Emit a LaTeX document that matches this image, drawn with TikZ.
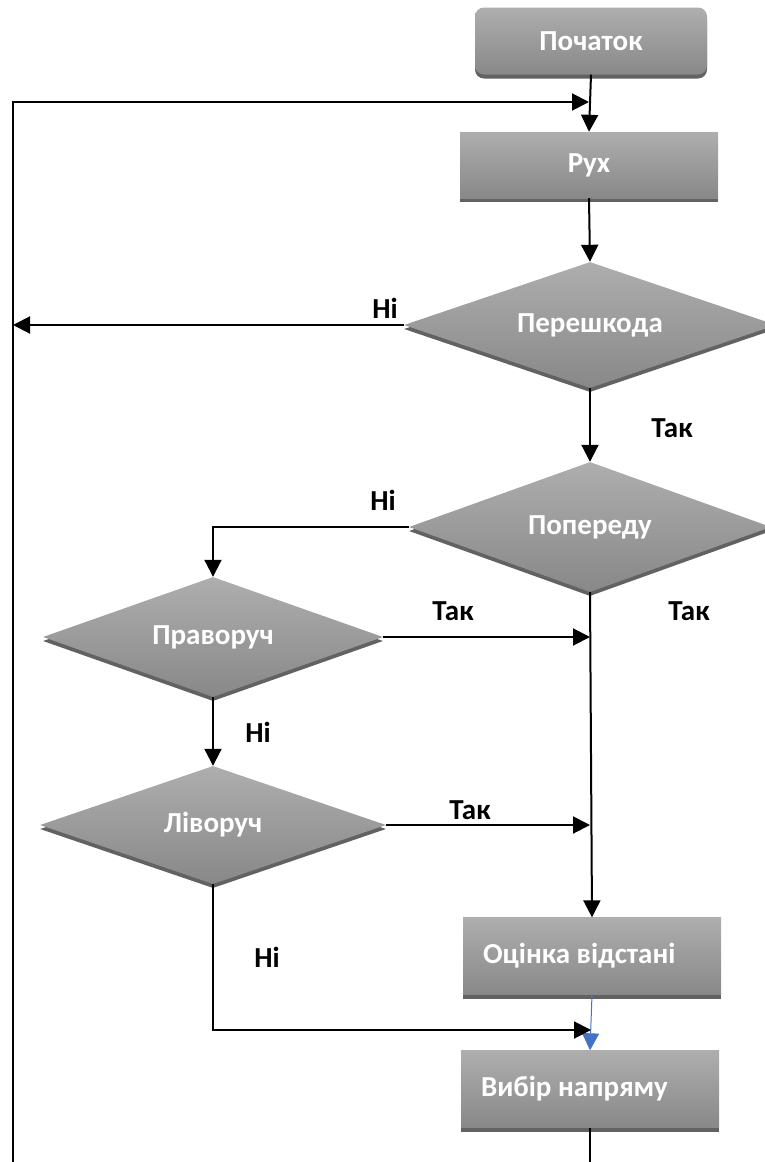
\documentclass[tikz,border=0pt]{standalone}
\usepackage{fontspec}
\setmainfont{Carlito}
\usetikzlibrary{shapes.geometric,shadows,arrows.meta}

\definecolor{boxtop}{RGB}{174,174,174}
\definecolor{boxbot}{RGB}{136,136,136}
\definecolor{boxshadow}{RGB}{98,98,98}
\definecolor{flowblue}{RGB}{68,114,196}

\tikzset{
  greynode/.style={top color=boxtop, bottom color=boxbot, draw=none, text=white,
    font=\fontsize{29}{34}\selectfont\bfseries, inner sep=0pt,
    drop shadow={shadow xshift=0pt, shadow yshift=-4pt, fill=boxshadow, opacity=1}},
  startbox/.style={greynode, rectangle, rounded corners=9pt, minimum width=232pt, minimum height=67pt},
  procbox/.style={greynode, rectangle, minimum width=258pt, minimum height=66pt},
  textleft/.style={minimum height=77pt, text width=218pt, inner xsep=20pt, align=flush left},
  decision/.style={greynode, diamond, aspect=3},
  lbl/.style={font=\fontsize{29}{34}\selectfont\bfseries},
  wire/.style={line width=2pt},
  flow/.style={wire, -{Triangle[length=17pt,width=17pt]}}
}

\begin{document}
\begin{tikzpicture}[x=1pt,y=-1pt]
    % page frame
    \useasboundingbox (0,0) rectangle (765,1162);
    \clip (0,0) rectangle (765,1162);

    % blocks
    \node[startbox] (start) at (591,41) {Початок};
    \node[procbox] (move) at (589,165) {Рух};
    \node[decision, minimum width=372pt, minimum height=126pt] (obst) at (590,325) {Перешкода};
    \node[decision, minimum width=362pt, minimum height=130pt] (ahead) at (590,527) {Попереду};
    \node[decision, minimum width=340pt, minimum height=120pt] (turnR) at (213,637) {Праворуч};
    \node[decision, minimum width=346pt, minimum height=118pt] (turnL) at (213,825) {Ліворуч};
    \node[procbox, textleft] (dist) at (592,956) {Оцінка відстані};
    \node[procbox, textleft] (dir) at (590,1089) {Вибір напряму};

    % free ends of the loop
    \coordinate (loopin) at (589,102);
    \coordinate (loopbot) at (13,1162);
    \coordinate (join3) at (591,1030);
    \coordinate (dirout) at (590,1162);

    % main line
    \draw[flow] (start.south) -- (move.north);
    \draw[flow] (move.south) -- (obst.north);
    \draw[flow] (obst.south) -- (ahead.north);
    \draw[flow] (ahead.south) -- (dist.north);
    \draw[flow, flowblue, line width=1pt] (dist.south) -- (dir.north);
    \draw[wire] (dir.south) -- (dirout);

    % return loop on the left
    \draw[flow] (loopbot) |- (loopin);
    \draw[flow] (obst.west) -- (obst.west -| loopbot);

    % side branches
    \draw[flow] (ahead.west) -| (turnR.north);
    \draw[flow] (turnR.east) -- (turnR.east -| ahead.south);
    \draw[flow] (turnR.south) -- (turnL.north);
    \draw[flow] (turnL.east) -- (turnL.east -| ahead.south);
    \draw[flow] (turnL.south) |- (join3);

    % branch labels
    \node[lbl] (no1) at (385,308) {Ні};
    \node[lbl] (yes1) at (672,428) {Так};
    \node[lbl] (no2) at (383,500) {Ні};
    \node[lbl] (yes2) at (689,611) {Так};
    \node[lbl] (yes3) at (453,611) {Так};
    \node[lbl] (no3) at (258,732) {Ні};
    \node[lbl] (yes4) at (470,810) {Так};
    \node[lbl] (no4) at (267,957) {Ні};

\end{tikzpicture}
\end{document}
